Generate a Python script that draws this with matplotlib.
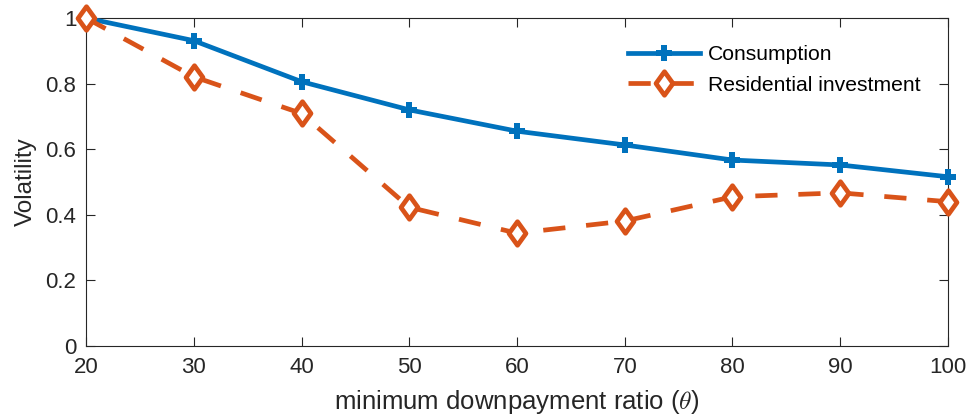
import matplotlib
matplotlib.use("Agg")
import matplotlib.pyplot as plt
from matplotlib.path import Path

theta = [20, 30, 40, 50, 60, 70, 80, 90, 100]
consumption = [1.0, 0.931, 0.806, 0.720, 0.655, 0.613, 0.567, 0.552, 0.516]
residential = [1.0, 0.821, 0.709, 0.423, 0.344, 0.381, 0.455, 0.467, 0.440]
yticks = [0, 0.2, 0.4, 0.6, 0.8, 1]
ytick_labels = ["0", "0.2", "0.4", "0.6", "0.8", "1"]
xticks = [20, 30, 40, 50, 60, 70, 80, 90, 100]

plt.rcParams['font.family'] = ['Liberation Sans', 'DejaVu Sans']
plt.rcParams['mathtext.fontset'] = 'cm'
axc = '#262626'
blue = '#0072BD'
orange = '#D95319'

diamond = Path([(0, 1), (0.72, 0), (0, -1), (-0.72, 0), (0, 1)],
               [Path.MOVETO, Path.LINETO, Path.LINETO, Path.LINETO, Path.CLOSEPOLY])

fig = plt.figure(figsize=(9.73, 4.18), dpi=100)
ax = fig.add_axes([0.0884, 0.1722, 0.8859, 0.7847])

lw = 3.4
ax.plot(theta, consumption, color=blue, lw=lw, marker='P', markersize=11,
        markeredgewidth=0, label='Consumption', zorder=3, clip_on=False)
ax.plot(theta, residential, color=orange, lw=lw, ls=(0, (16 / lw, 15 / lw)),
        marker=diamond, markersize=17, markerfacecolor='white', markeredgewidth=3.4,
        markeredgecolor=orange, label='Residential investment', zorder=4, clip_on=False)

ax.set_xlim(20, 100)
ax.set_ylim(0, 1)
ax.set_xticks(xticks)
ax.set_yticks(yticks)
ax.set_yticklabels(ytick_labels)
ax.tick_params(direction='in', length=6.5, width=0.8, colors=axc, labelsize=16,
               top=True, right=True)
ax.tick_params(axis='x', pad=8)
ax.tick_params(axis='y', pad=7)
for s in ax.spines.values():
    s.set_color(axc)
    s.set_linewidth(0.8)

ax.set_xlabel('minimum downpayment ratio ($\\theta$)', fontsize=18.5, color=axc, labelpad=7)
ax.set_ylabel('Volatility', fontsize=17.5, color=axc, labelpad=6)

leg = ax.legend(loc='upper right', bbox_to_anchor=(0.99, 0.975), frameon=False,
                fontsize=15.2, handlelength=3.45, handletextpad=0.35, labelspacing=0.55)
for t in leg.get_texts():
    t.set_color('black')

fig.savefig('out.png', dpi=100)
